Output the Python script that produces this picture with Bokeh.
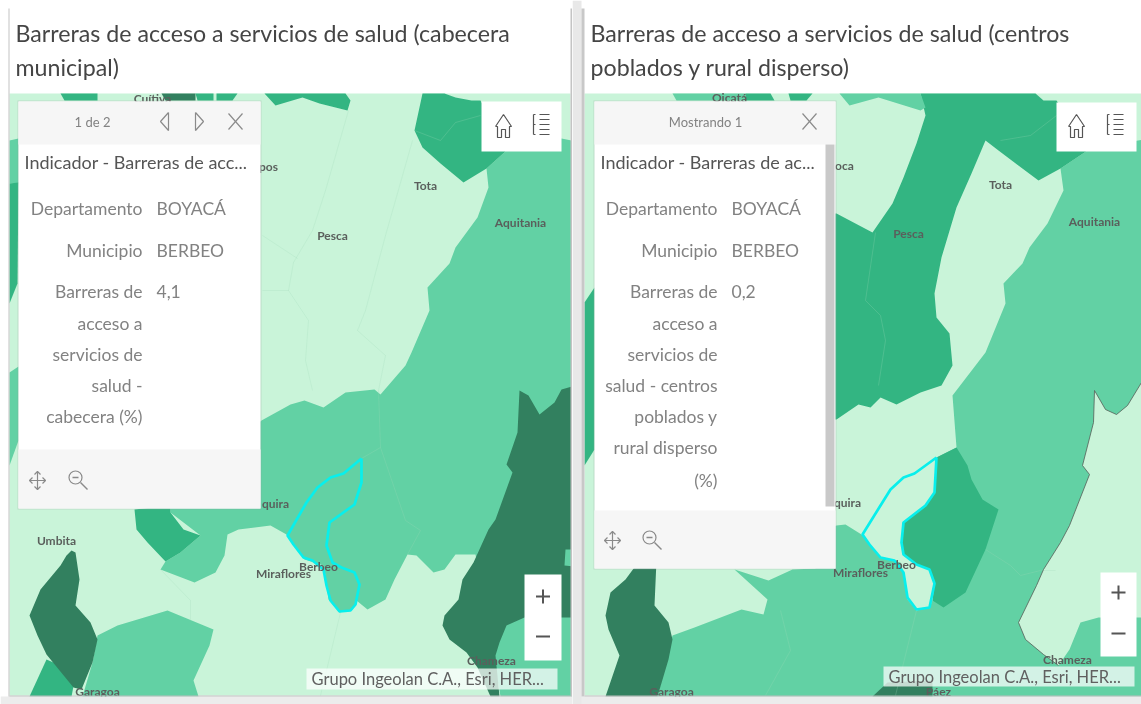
from bokeh.plotting import figure
from bokeh.layouts import row
from bokeh.models import Range1d
from bokeh.core.properties import value
from bokeh.embed import file_html
from bokeh.resources import INLINE

LIGHT, MID, STRONG, DARK = "#c9f4d9", "#62d1a4", "#33b582", "#32805f"
CYAN = "#08efec"
TITLE_L = ["Barreras de acceso a servicios de salud (cabecera", "municipal)"]
TITLE_R = ["Barreras de acceso a servicios de salud (centros", "poblados y rural disperso)"]
HEADER_L = "1 de 2"
HEADER_R = "Mostrando 1"
POP_TITLE_L = "Indicador - Barreras de acc..."
POP_TITLE_R = "Indicador - Barreras de ac..."
FIELDS_L = ["Departamento", "Municipio", "Barreras de", "acceso a", "servicios de", "salud -", "cabecera (%)"]
FIELDS_R = ["Departamento", "Municipio", "Barreras de", "acceso a", "servicios de", "salud - centros", "poblados y", "rural disperso", "(%)"]
VALUES_L = ["BOYACÁ", "BERBEO", "4,1"]
VALUES_R = ["BOYACÁ", "BERBEO", "0,2"]
ATTRIBUTION = "Grupo Ingeolan C.A., Esri, HER..."

# ---- left map: municipality shapes, (colour, outline)
L_SHAPES = [
 (MID, [(571,140),(561,138),(506,150),(486,168),(488,187),(477,217),(455,247),(449,263),(427,287),(429,310),(411,352),(405,365),(380,394),(374,389),(345,392),(323,407),(304,400),(290,404),(261,420),(170,500),(170,512),(200,535),(180,552),(165,561),(160,569),(194,582),(215,572),(224,555),(227,534),(238,529),(270,525),(286,534),(304,559),(323,565),(325,575),(328,599),(339,612),(352,609),(356,600),(367,609),(385,599),(394,579),(407,554),(416,555),(433,572),(444,569),(455,554),(475,554),(500,696),(580,696),(580,140)]),
 (STRONG, [(422,93),(414,130),(422,147),(440,163),(463,182),(486,168),(506,150),(480,100),(471,100),(455,97),(444,93)]),
 (STRONG, [(264,93),(275,105),(302,97),(319,103),(347,110),(350,100),(345,93)]),
 (STRONG, [(60,93),(64,100),(97,100),(97,93)]),
 (DARK, [(161,93),(165,100),(195,100),(195,93)]),
 (STRONG, [(195,93),(197,100),(213,100),(213,93)]),
 (STRONG, [(216,93),(216,100),(232,100),(237,93)]),
 (MID, [(9,140),(18,138),(18,183),(9,183)]),
 (STRONG, [(9,183),(18,182),(17,283),(9,303)]),
 (MID, [(9,372),(18,366),(18,440),(9,465)]),
 (STRONG, [(134,509),(136,529),(147,542),(165,561),(180,552),(200,535),(183,529),(170,512),(170,505)]),
 (MID, [(97,635),(117,625),(167,610),(213,629),(209,645),(193,680),(198,696),(82,696),(92,662)]),
 (STRONG, [(46,659),(29,696),(71,696),(74,680),(60,665)]),
 (DARK, [(71,550),(75,552),(79,579),(75,605),(90,622),(97,639),(92,662),(81,689),(73,687),(46,654),(37,635),(29,615),(40,589),(60,565),(66,555)]),
 (DARK, [(519,390),(528,395),(539,414),(554,402),(561,389),(575,385),(575,549),(565,549),(564,565),(575,566),(575,617),(524,617),(506,625),(499,642),(495,655),(499,696),(490,696),(477,667),(466,652),(449,639),(442,625),(444,615),(458,599),(462,579),(473,562),(488,529),(495,519),(512,472),(506,464),(517,432)]),
]
L_CYAN = [(361,458),(343,473),(330,477),(317,487),(306,502),(287,535),(293,544),(303,557),(312,560),(323,569),(326,585),(330,600),(339,611),(350,610),(355,604),(359,584),(354,572),(341,567),(332,562),(326,545),(329,522),(354,504),(361,482),(361,458)]
L_FAINT = [
 [(348,110),(325,190),(312,230),(293,262),(288,290)],
 [(262,235),(297,258)],
 [(262,290),(288,290),(308,320),(305,360),(312,390)],
 [(412,140),(385,235),(365,310),(357,330),(385,355),(378,390),(380,447)],
 [(380,447),(405,520),(420,530),(407,554)],
 [(380,447),(361,458)],
 [(340,612),(320,695)],
 [(160,569),(190,600),(190,620)],
 [(414,130),(440,140),(455,122),(480,115)],
]
L_LABELS = [("Tota",425,185),("Pesca",332,235),("Aquitania",520,222),("pos",268,166),("Umbita",56,540),("quira",275,503),("Miraflores",283,573),("Berbeo",318,566),("Chameza",491,660),("Cuítiva",152,98),("Garagoa",97,691)]

# ---- right map
R_SHAPES = [
 (MID, [(1150,138),(1090,148),(1060,168),(1063,190),(1047,223),(1029,247),(1022,263),(1003,283),(1005,303),(985,352),(952,395),(956,447),(936,457),(940,582),(932,600),(929,607),(916,610),(907,599),(905,579),(900,562),(880,557),(861,534),(845,524),(836,525),(820,530),(815,568),(792,569),(768,580),(734,569),(767,599),(763,614),(741,609),(694,627),(672,635),(657,696),(1150,696)]),
 (STRONG, [(920,93),(925,115),(916,143),(903,177),(892,203),(872,232),(836,213),(820,213),(820,419),(836,419),(858,404),(870,407),(880,397),(896,404),(920,392),(941,385),(952,365),(949,333),(936,317),(934,293),(941,257),(956,207),(971,173),(985,140),(998,150),(1038,180),(1060,168),(1090,148),(1056,100),(1043,100),(1035,93)]),
 (MID, [(839,93),(849,105),(878,97),(920,110),(925,107),(920,93)]),
 (MID, [(672,93),(676,100),(745,100),(745,93)]),
 (STRONG, [(745,93),(745,100),(774,100),(770,93)]),
 (STRONG, [(788,93),(790,100),(806,100),(812,93)]),
 (STRONG, [(584,302),(594,287),(594,449),(584,465)]),
 (STRONG, [(956,447),(967,465),(971,479),(982,499),(998,509),(985,549),(965,592),(943,607),(932,600),(934,582),(929,569),(916,564),(903,555),(901,542),(903,522),(925,505),(934,492),(936,457)]),
 (LIGHT, [(1094,390),(1105,409),(1116,414),(1127,405),(1141,382),(1141,617),(1098,617),(1080,622),(1069,649),(1058,665),(1043,654),(1025,639),(1018,622),(1036,585),(1043,569),(1060,542),(1069,525),(1089,474),(1082,465),(1093,422)]),
 (DARK, [(872,696),(887,682),(932,680),(932,696)]),
 (DARK, [(639,560),(656,560),(654,605),(668,622),(672,639),(668,659),(657,696),(605,696),(619,655),(608,629),(605,615),(610,592),(625,579)]),
]
R_CYAN = [(936,457),(914,473),(903,477),(890,489),(880,505),(862,534),(869,544),(880,557),(894,560),(903,572),(907,597),(916,609),(929,607),(934,583),(929,569),(916,564),(903,554),(901,542),(903,522),(925,505),(934,492),(936,457)]
R_FAINT = [
 [(916,610),(895,695)],
 [(985,549),(1010,565),(1020,575),(1040,570),(1055,570)],
 [(780,610),(790,650),(765,695)],
 [(880,315),(885,340),(878,385)],
 [(875,232),(865,300),(880,315)],
 [(1000,140),(1030,135),(1056,115)],
]
R_OUTLINE = [[(1094,390),(1105,409),(1116,414),(1127,405),(1141,382)],
             [(1094,390),(1093,422),(1082,465),(1089,474),(1069,525),(1060,542),(1043,569),(1036,585),(1018,622),(1025,639),(1043,654),(1058,665)]]
R_LABELS = [("Tota",1000,184),("Pesca",908,233),("Aquitania",1094,221),("oca",844,165),("quira",847,502),("Miraflores",860,572),("Berbeo",896,564),("Chameza",1067,659),("Oicatá",729,97),("Garagoa",671,691),("Páez",938,691)]

TEXT = "#4d4d4d"; SOFT = "#828282"; ICON = "#8a8a8a"

def txt(p, x, y, s, size, color=TEXT, align="left", font="Lato", style="normal"):
    p.text([x], [y], text=[s], text_font=value(font), text_font_size=f"{size}px", text_color=color,
           text_align=align, text_baseline="middle", text_font_style=style)

def lines(p, x0, y0, segs, color=ICON, width=1.2):
    p.multi_line([[x0 + a for a, _ in s] for s in segs], [[y0 + b for _, b in s] for s in segs],
                 line_color=color, line_width=width)

def panel(xa, xb, map_l, map_r, shapes, cyan, faint, labels, title, title_x, pop, scroll, head, head_x, ptitle, fields, vals, lab_x, val_x, icons, home, zoom, attr):
    p = figure(width=xb - xa, height=704, x_range=Range1d(xa, xb), y_range=Range1d(704, 0),
               output_backend="svg", toolbar_location=None, min_border=0, outline_line_color=None,
               background_fill_color="white", border_fill_color="white")
    p.axis.visible = False
    p.grid.visible = False
    p.quad(left=[map_l], right=[map_r], top=[93], bottom=[695], fill_color=LIGHT, line_color=None)
    for col, pts in shapes:
        p.patch([a for a, _ in pts], [b for _, b in pts], fill_color=col, line_color=None)
    p.multi_line([[a for a, _ in s] for s in faint], [[b for _, b in s] for s in faint], line_color="#9fd9b8", line_width=0.7, line_alpha=0.35)
    p.line([a for a, _ in cyan], [b for _, b in cyan], line_color=CYAN, line_width=2.7)
    for s, x, y in labels:
        txt(p, x, y, s, 12, "#5a5f5c", "center", "Lato", "bold")
    # page strip under the maps
    p.quad(left=[xa], right=[xb], top=[696], bottom=[704], fill_color="#ececec", line_color=None)
    p.quad(left=[map_l], right=[map_r], top=[695], bottom=[696], fill_color="#bdbdbd", line_color=None)
    for i, s in enumerate(title):
        txt(p, title_x, 32 + 34 * i, s, 23.2, "#454545", "left", "Lato")
    # popup
    pl, pr, pb, foot = pop
    p.quad(left=[pl - 1], right=[pr + 1], top=[100], bottom=[pb + 1], fill_color="#999999", fill_alpha=0.25, line_color=None)
    p.quad(left=[pl], right=[pr], top=[101], bottom=[pb], fill_color="white", line_color=None)
    p.quad(left=[pl, pl], right=[pr, pr], top=[101, foot], bottom=[144, pb], fill_color="#f6f6f6", line_color=None)
    if scroll:
        p.quad(left=[scroll], right=[scroll + 9], top=[144], bottom=[foot - 4], fill_color="#c9c9c9", line_color=None)
    txt(p, head_x, 121, head, 13, SOFT, "center")
    txt(p, pl + 6, 161, ptitle, 18, "#555555", "left")
    ys = [208, 250, 291, 323, 354, 385, 416, 447, 480]
    for s, y in zip(fields, ys):
        txt(p, lab_x, y, s, 17.5, SOFT, "right")
    for s, y in zip(vals, ys):
        txt(p, val_x, y, s, 17.5, SOFT, "left")
    # popup icons
    for kind, x, y in icons:
        if kind == "prev":
            lines(p, x, y, [[(4, -9), (-4, 0), (4, 9), (4, -9)]])
        elif kind == "next":
            lines(p, x, y, [[(-4, -9), (4, 0), (-4, 9), (-4, -9)]])
        elif kind == "close":
            lines(p, x, y, [[(-7, -8), (7, 8)], [(-7, 8), (7, -8)]])
        elif kind == "move":
            lines(p, x, y, [[(-8, 0), (8, 0)], [(0, -9), (0, 9)], [(-5, -3), (-8, 0), (-5, 3)], [(5, -3), (8, 0), (5, 3)], [(-3, -6), (0, -9), (3, -6)], [(-3, 6), (0, 9), (3, 6)]])
        elif kind == "zoom":
            p.scatter([x - 2], [y - 2], size=13, marker="circle", fill_color=None, line_color=ICON, line_width=1.2)
            lines(p, x, y, [[(3, 3), (10, 10)], [(-5, -2), (1, -2)]], width=1.4)
    # home / layers widget
    hx0, hx1, hy0, hy1, hxa, hxb = home
    p.quad(left=[hx0], right=[hx1], top=[hy0], bottom=[hy1], fill_color="white", line_color=None)
    lines(p, hxa, 125, [[(-8, 1), (0, -11), (8, 1), (6, 1), (6, 12), (2, 12), (2, 4), (-2, 4), (-2, 12), (-6, 12), (-6, 1), (-8, 1)]], color="#555555")
    lines(p, hxb, 123, [[(-2, -9), (8, -9)], [(-2, -4), (8, -4)], [(-2, 1), (8, 1)], [(-2, 6), (8, 6)], [(-2, 11), (8, 11)], [(-8, -9), (-6, -9)], [(-8, -9), (-8, 11)], [(-8, 1), (-6, 1)], [(-8, 11), (-6, 11)]], color="#555555")
    # zoom widget
    zx0, zx1, zy0, zy1, zpy, zmy = zoom
    p.quad(left=[zx0], right=[zx1], top=[zy0], bottom=[zy1], fill_color="white", line_color=None)
    zc = (zx0 + zx1) / 2
    lines(p, zc, zpy, [[(-7, 0), (7, 0)], [(0, -7), (0, 7)]], color="#555555", width=2)
    lines(p, zc, zmy, [[(-7, 0), (7, 0)]], color="#555555", width=2)
    # attribution
    ax0, ax1, ay0, ay1 = attr
    p.quad(left=[ax0], right=[ax1], top=[ay0], bottom=[ay1], fill_color="white", fill_alpha=0.72, line_color=None)
    txt(p, ax0 + 5, (ay0 + ay1) / 2, ATTRIBUTION, 16.5, "#606060", "left")
    return p

left = panel(0, 572, 9, 570, L_SHAPES, L_CYAN, L_FAINT, L_LABELS, TITLE_L, 15,
             (18, 260, 508, 449), None, HEADER_L, 92, POP_TITLE_L, FIELDS_L, VALUES_L, 142, 156,
             [("prev", 164, 121), ("next", 199, 121), ("close", 235, 121), ("move", 37, 480), ("zoom", 77, 479)],
             (481, 561, 101, 151, 503, 541), (524, 561, 574, 660, 596, 636), (306, 557, 668, 689))
left.quad(left=[8], right=[9], top=[8], bottom=[696], fill_color="#c4c4c4", line_color=None)
left.quad(left=[570], right=[572], top=[8], bottom=[696], fill_color="#c4c4c4", line_color=None)

right = panel(572, 1141, 584, 1141, R_SHAPES, R_CYAN, R_FAINT, R_LABELS, TITLE_R, 590,
              (594, 835, 568, 510), 825, HEADER_R, 705, POP_TITLE_R, FIELDS_R, VALUES_R, 717, 731,
              [("close", 809, 121), ("move", 612, 540), ("zoom", 651, 539)],
              (1056, 1136, 102, 151, 1076, 1115), (1100, 1136, 572, 656, 592, 633), (883, 1134, 666, 686))
right.multi_line([[a for a, _ in s] for s in R_OUTLINE], [[b for _, b in s] for s in R_OUTLINE], line_color="#555f59", line_width=1, line_alpha=0.8)
right.quad(left=[572], right=[581], top=[0], bottom=[704], fill_color="#e8e8e8", line_color=None)
right.quad(left=[581], right=[584], top=[8], bottom=[696], fill_color="#c8c8c8", line_color=None)

layout = row(left, right, spacing=0)
html = file_html(layout, INLINE)
html = html.replace("</head>", "<style>body{filter:blur(0.7px);overflow:hidden}</style></head>", 1)
open("out.html", "w").write(html)
